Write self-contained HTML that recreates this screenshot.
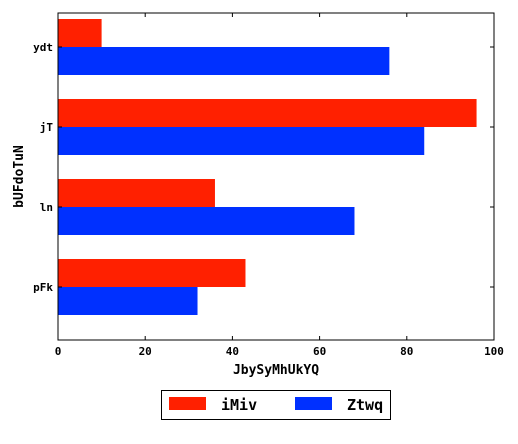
<!DOCTYPE html>
<html><head><meta charset="utf-8"><style>
body{margin:0;background:#fff;overflow:hidden;}
svg{display:block;}
text{font-family:"DejaVu Sans Mono","Liberation Mono",monospace;font-weight:bold;}
</style></head><body>
<svg id="chart" width="518" height="444" xmlns="http://www.w3.org/2000/svg"></svg>
<script>
const categories = ["ydt","jT","ln","pFk"];
const seriesNames = ["iMiv","Ztwq"];
const seriesA = [10,96,36,43];
const seriesB = [76,84,68,32];
const xTicks = [0,20,40,60,80,100];
const colors = ["#ff2000","#0030ff"];

const svg = document.getElementById('chart');
const NS = "http://www.w3.org/2000/svg";
const L=58,R=494,T=13,B=340;
const xMin=0,xMax=100;
function xs(v){return L+(v-xMin)/(xMax-xMin)*(R-L);}
const step=80;
function yc(i){return T+34+step*i;}
const barH=28;
function mk(tag,attrs,txt){const e=document.createElementNS(NS,tag);for(const k in attrs)e.setAttribute(k,attrs[k]);if(txt!==undefined)e.textContent=txt;svg.appendChild(e);return e;}

[seriesA,seriesB].forEach((s,si)=>{
  s.forEach((v,i)=>{
    const y = si===0 ? yc(i)-barH : yc(i);
    const r=mk('rect',{x:xs(0),y:y,width:xs(v)-xs(0),height:barH,fill:colors[si]});
    
    
  });
});

const frame=mk('rect',{x:L,y:T,width:R-L,height:B-T,fill:'none',stroke:'#000','stroke-width':1});



xTicks.forEach(t=>{
  const x=xs(t);
  mk('line',{x1:x,x2:x,y1:B,y2:B-4,stroke:'#000'});
  mk('line',{x1:x,x2:x,y1:T,y2:T+4,stroke:'#000'});
  const tx=mk('text',{x:x,y:B+15,'text-anchor':'middle','font-size':11},String(t));
  
  
});
categories.forEach((c,i)=>{
  const y=yc(i);
  mk('line',{x1:L,x2:L+4,y1:y,y2:y,stroke:'#000'});
  mk('line',{x1:R,x2:R-4,y1:y,y2:y,stroke:'#000'});
  const tx=mk('text',{x:L-5,y:y+4,'text-anchor':'end','font-size':11},c);
  
  
});
const xt=mk('text',{x:(L+R)/2,y:374,'text-anchor':'middle','font-size':13},'JbySyMhUkYQ');


const yt=mk('text',{x:0,y:0,'text-anchor':'middle','font-size':13,transform:'translate(23,'+((T+B)/2)+') rotate(-90)'},'bUFdoTuN');



const lg=mk('rect',{x:161.5,y:390.5,width:229,height:29,fill:'#fff',stroke:'#000'});


const lx=[169,295];
seriesNames.forEach((n,i)=>{
  const p=mk('rect',{x:lx[i],y:397,width:37,height:13,fill:colors[i]});
  
  
  const t=mk('text',{x:lx[i]+52,y:410,'font-size':15},n);
  
  
});
</script>
</body></html>
